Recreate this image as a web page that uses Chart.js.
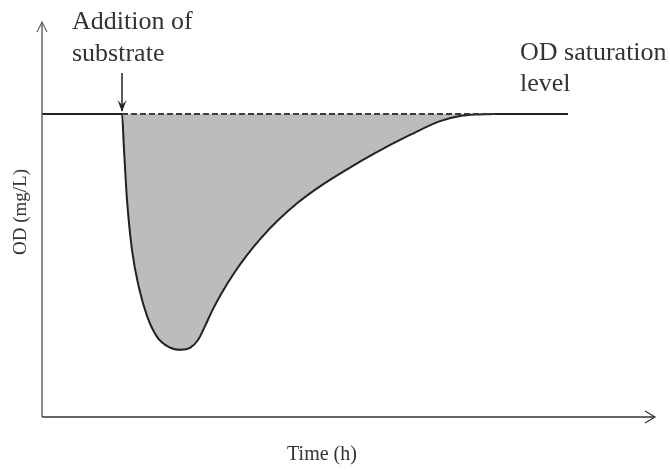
<!DOCTYPE html>
<html>
<head>
<meta charset="utf-8">
<script src="https://cdn.jsdelivr.net/npm/chart.js@4.4.1/dist/chart.umd.min.js"></script>
<style>
  html, body { margin: 0; padding: 0; background: #fff; }
  #wrap { width: 670px; height: 470px; position: relative; }
</style>
</head>
<body>
<div id="wrap"><canvas id="c" width="670" height="470"></canvas></div>
<script>
// Dissolved-oxygen response after a substrate pulse
const timeH = [0, 1.305, 1.338, 1.387, 1.468, 1.582, 1.713, 1.876, 2.072, 2.268, 2.414, 2.545, 2.659,
               2.773, 2.936, 3.132, 3.344, 3.573, 3.850, 4.176, 4.535, 4.943, 5.432, 6.003, 6.493,
               6.819, 7.113, 7.390, 8.581];
const odMgL = [7.67, 7.67, 6.76, 5.49, 4.23, 3.27, 2.56, 2.03, 1.77, 1.70, 1.75, 1.95, 2.30,
               2.68, 3.15, 3.64, 4.10, 4.53, 4.98, 5.43, 5.84, 6.24, 6.68, 7.14, 7.49,
               7.62, 7.66, 7.67, 7.67];
const saturationOD = 7.67;
const substrateTime = 1.305;
const recoveryTime = 7.390;
const axisMax = { x: 10, y: 10 };

const xAxisTitle = 'Time (h)';
const yAxisTitle = 'OD (mg/L)';
const additionLabel = ['Addition of', 'substrate'];
const saturationLabel = ['OD saturation', 'level'];

const curvePoints = timeH.map((t, i) => ({ x: t, y: odMgL[i] }));
const saturationPoints = [
  { x: substrateTime, y: saturationOD },
  { x: recoveryTime, y: saturationOD }
];

const SERIF = '"Liberation Serif", "DejaVu Serif", serif';

const decorations = {
  id: 'decorations',
  afterDatasetsDraw(chart) {
    const { ctx } = chart;
    const xs = chart.scales.x, ys = chart.scales.y;
    const x0 = xs.getPixelForValue(0), y0 = ys.getPixelForValue(0);
    const xEnd = xs.getPixelForValue(axisMax.x), yTop = ys.getPixelForValue(axisMax.y);
    ctx.save();

    // y axis with open arrow head
    ctx.strokeStyle = '#666';
    ctx.lineWidth = 1.5;
    ctx.beginPath();
    ctx.moveTo(x0, y0);
    ctx.lineTo(x0, yTop);
    ctx.stroke();
    ctx.lineWidth = 1.2;
    ctx.beginPath();
    ctx.moveTo(x0 - 5, yTop + 10);
    ctx.lineTo(x0, yTop);
    ctx.lineTo(x0 + 5, yTop + 10);
    ctx.stroke();

    // x axis with open arrow head
    ctx.strokeStyle = '#333';
    ctx.lineWidth = 1.5;
    ctx.beginPath();
    ctx.moveTo(x0, y0);
    ctx.lineTo(xEnd, y0);
    ctx.stroke();
    ctx.lineWidth = 1.2;
    ctx.beginPath();
    ctx.moveTo(xEnd - 10, y0 - 6);
    ctx.lineTo(xEnd, y0);
    ctx.lineTo(xEnd - 10, y0 + 6);
    ctx.stroke();

    // axis titles
    ctx.fillStyle = '#333';
    ctx.font = '20px ' + SERIF;
    ctx.textAlign = 'center';
    ctx.textBaseline = 'middle';
    ctx.fillText(xAxisTitle, 322, 455);
    ctx.save();
    ctx.translate(21, 212);
    ctx.rotate(-Math.PI / 2);
    ctx.font = '19px ' + SERIF;
    ctx.fillText(yAxisTitle, 0, 0);
    ctx.restore();

    // annotations
    ctx.font = '26px ' + SERIF;
    ctx.textAlign = 'left';
    ctx.textBaseline = 'alphabetic';
    ctx.fillText(additionLabel[0], 72, 29);
    ctx.fillText(additionLabel[1], 72, 61);
    ctx.fillText(saturationLabel[0], 520, 60);
    ctx.fillText(saturationLabel[1], 520, 91);

    // pointer marking the substrate addition
    const px = xs.getPixelForValue(substrateTime);
    const py = ys.getPixelForValue(saturationOD);
    ctx.strokeStyle = '#222';
    ctx.fillStyle = '#222';
    ctx.lineWidth = 1.5;
    ctx.beginPath();
    ctx.moveTo(px, 73);
    ctx.lineTo(px, py - 3);
    ctx.stroke();
    ctx.beginPath();
    ctx.moveTo(px - 4.5, py - 14);
    ctx.lineTo(px, py - 2);
    ctx.lineTo(px + 4.5, py - 14);
    ctx.lineTo(px, py - 9);
    ctx.closePath();
    ctx.fill();

    ctx.restore();
  }
};

new Chart(document.getElementById('c'), {
  type: 'line',
  data: {
    datasets: [
      {
        label: 'Saturation',
        data: saturationPoints,
        borderColor: '#3a3a3a',
        borderWidth: 2,
        borderDash: [6, 3],
        pointRadius: 0,
        fill: false
      },
      {
        label: 'OD',
        data: curvePoints,
        borderColor: '#222',
        borderWidth: 2,
        pointRadius: 0,
        cubicInterpolationMode: 'monotone',
        fill: { value: saturationOD },
        backgroundColor: 'rgb(186,189,186)'
      }
    ]
  },
  plugins: [decorations],
  options: {
    responsive: false,
    animation: false,
    events: [],
    layout: { padding: { left: 42, top: 22, right: 15, bottom: 53 } },
    plugins: { legend: { display: false }, tooltip: { enabled: false } },
    scales: {
      x: { type: 'linear', min: 0, max: axisMax.x, display: false },
      y: { type: 'linear', min: 0, max: axisMax.y, display: false }
    }
  }
});
</script>
</body>
</html>
